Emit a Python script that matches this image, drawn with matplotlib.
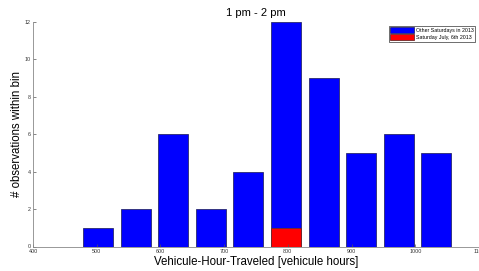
import matplotlib.pyplot as plt
import numpy as np

plt.rcParams['font.family'] = ['Liberation Sans', 'DejaVu Sans']

# --- data ---
bin_centers = [502, 561, 620, 679, 738, 797, 856, 915, 974, 1033]
other_saturdays = [1, 2, 6, 2, 4, 12, 9, 5, 6, 5]
july_6th = [0, 0, 0, 0, 0, 1, 0, 0, 0, 0]
bar_width = 47

fig = plt.figure(figsize=(4.79, 2.71), dpi=100)
ax = fig.add_axes([33 / 479, 24.5 / 271, 446 / 479, 224.5 / 271])

ax.bar(bin_centers, other_saturdays, width=bar_width, color='#0000ff',
       edgecolor='#2a2a6e', linewidth=0.6, label='Other Saturdays in 2013')
ax.bar(bin_centers, july_6th, width=bar_width, color='#ff0000',
       edgecolor='#6e2a2a', linewidth=0.6, label='Saturday July, 6th 2013')

ax.set_xlim(400, 1100)
ax.set_ylim(0, 12)
ax.set_xticks(np.arange(400, 1101, 100))
ax.set_yticks(np.arange(0, 13, 2))
ax.tick_params(direction='in', labelsize=3.9, length=2.5, width=0.5,
               colors='#555555', labelcolor='#333333', pad=1.5)

for side in ['top', 'right']:
    ax.spines[side].set_visible(False)
for side in ['left', 'bottom']:
    ax.spines[side].set_color('#888888')
    ax.spines[side].set_linewidth(0.6)

ax.set_title("1 pm - 2 pm", fontsize=8, pad=4)
ax.set_xlabel("Vehicule-Hour-Traveled [vehicule hours]", fontsize=8.3, labelpad=1.5)
ax.set_ylabel("# observations within bin", fontsize=8.3, labelpad=1.5)

leg = ax.legend(loc='upper right', fontsize=3.8, frameon=True, fancybox=False,
                handlelength=4.5, handleheight=1.4, borderpad=0.3,
                labelspacing=0.1, handletextpad=0.3,
                bbox_to_anchor=(0.997, 0.995))
leg.get_frame().set_edgecolor('black')
leg.get_frame().set_linewidth(0.5)

fig.savefig("out.png", dpi=100)
